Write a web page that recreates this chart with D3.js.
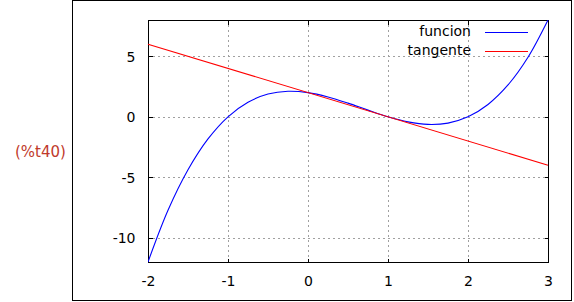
<!DOCTYPE html>
<meta charset="utf-8">
<script src="https://d3js.org/d3.v7.min.js"></script>
<style>
  body { margin: 0; background: #fff; }
  text { font-family: "DejaVu Sans", sans-serif; }
</style>
<body>
<div id="chart"></div>
<script>
  // values
  var xTicks = [-2, -1, 0, 1, 2, 3];
  var yTicks = [-10, -5, 0, 5];
  var funcionX = [-2, -1.75, -1.5, -1.25, -1, -0.75, -0.5, -0.25, 0, 0.25, 0.5, 0.75, 1, 1.25, 1.5, 1.75, 2, 2.25, 2.5, 2.75, 3];
  var funcionY = [-12, -7.73, -4.38, -1.83, 0, 1.2, 1.88, 2.11, 2, 1.64, 1.13, 0.55, 0, -0.42, -0.63, -0.52, 0, 1.02, 2.63, 4.92, 8];
  var tangenteX = [-2, 3];
  var tangenteY = [6, -4];
  var legendNames = ["funcion", "tangente"];
  var legendColors = ["#0000ff", "#ff0000"];

  var width = 574, height = 302;
  var plot = { left: 148, right: 548, top: 20, bottom: 262 };

  var svg = d3.select("#chart").append("svg")
    .attr("width", width)
    .attr("height", height);

  // outer frame of the image
  svg.append("rect")
    .attr("x", 72.5).attr("y", 0.5)
    .attr("width", 499).attr("height", 300)
    .attr("fill", "white").attr("stroke", "black");

  // the maxima label
  svg.append("text")
    .attr("x", 15).attr("y", 152)
    .attr("dominant-baseline", "middle")
    .attr("font-size", 15)
    .attr("fill", "#bf3a2b")
    .text("(%t40)");

  var x = d3.scaleLinear().domain([-2, 3]).range([plot.left, plot.right]);
  var y = d3.scaleLinear().domain([-12, 8]).range([plot.bottom, plot.top]);

  // grid
  var grid = svg.append("g")
    .attr("stroke", "#a0a0a0")
    .attr("stroke-dasharray", "2,3")
    .attr("shape-rendering", "crispEdges");
  grid.selectAll(".gx").data(xTicks.slice(1, -1)).enter().append("line")
    .attr("x1", d => Math.round(x(d)) + 0.5).attr("x2", d => Math.round(x(d)) + 0.5)
    .attr("y1", plot.top).attr("y2", plot.bottom);
  grid.selectAll(".gy").data(yTicks).enter().append("line")
    .attr("y1", d => Math.round(y(d)) + 0.5).attr("y2", d => Math.round(y(d)) + 0.5)
    .attr("x1", plot.left).attr("x2", plot.right);

  // axes, ticks inside and mirrored
  var fmt = d => d < 0 ? "-" + Math.abs(d) : d;
  var bottomAxis = svg.append("g")
    .attr("transform", "translate(0," + (plot.bottom + 0.5) + ")")
    .call(d3.axisBottom(x).tickValues(xTicks).tickSize(-4).tickPadding(14).tickFormat(fmt));
  var topAxis = svg.append("g")
    .attr("transform", "translate(0," + (plot.top + 0.5) + ")")
    .call(d3.axisTop(x).tickValues(xTicks).tickSize(-4).tickFormat(""));
  var leftAxis = svg.append("g")
    .attr("transform", "translate(" + (plot.left + 0.5) + ",0)")
    .call(d3.axisLeft(y).tickValues(yTicks).tickSize(-4).tickPadding(13).tickFormat(fmt));
  var rightAxis = svg.append("g")
    .attr("transform", "translate(" + (plot.right + 0.5) + ",0)")
    .call(d3.axisRight(y).tickValues(yTicks).tickSize(-4).tickFormat(""));

  [bottomAxis, topAxis, leftAxis, rightAxis].forEach(function (a) {
    a.select(".domain").remove();
    a.selectAll("line").attr("stroke", "black").attr("shape-rendering", "crispEdges");
    a.selectAll("text")
      .attr("font-family", "DejaVu Sans")
      .attr("font-size", 14)
      .attr("fill", "#000");
  });
  leftAxis.selectAll("text").attr("dy", "0.36em");

  // plot border
  svg.append("rect")
    .attr("x", plot.left + 0.5).attr("y", plot.top + 0.5)
    .attr("width", plot.right - plot.left).attr("height", plot.bottom - plot.top)
    .attr("fill", "none").attr("stroke", "black")
    .attr("shape-rendering", "crispEdges");

  // curves
  var line = d3.line().x(d => x(d[0])).y(d => y(d[1])).curve(d3.curveCatmullRom);
  var clip = svg.append("clipPath").attr("id", "clip").append("rect")
    .attr("x", plot.left).attr("y", plot.top)
    .attr("width", plot.right - plot.left + 1).attr("height", plot.bottom - plot.top + 1);

  svg.append("path")
    .datum(d3.zip(funcionX, funcionY))
    .attr("clip-path", "url(#clip)")
    .attr("d", line)
    .attr("fill", "none").attr("stroke", legendColors[0]).attr("stroke-width", 1.1);

  svg.append("path")
    .datum(d3.zip(tangenteX, tangenteY))
    .attr("d", line)
    .attr("fill", "none").attr("stroke", legendColors[1]).attr("stroke-width", 1.1);

  // legend
  var legend = svg.append("g");
  legendNames.forEach(function (name, i) {
    var ly = 32 + i * 19;
    legend.append("text")
      .attr("x", 471).attr("y", ly)
      .attr("text-anchor", "end")
      .attr("dominant-baseline", "middle")
      .attr("font-size", 14)
      .text(name);
    legend.append("line")
      .attr("x1", 485).attr("x2", 528)
      .attr("y1", ly + 0.5).attr("y2", ly + 0.5)
      .attr("stroke", legendColors[i])
      .attr("shape-rendering", "crispEdges");
  });
</script>
</body>
